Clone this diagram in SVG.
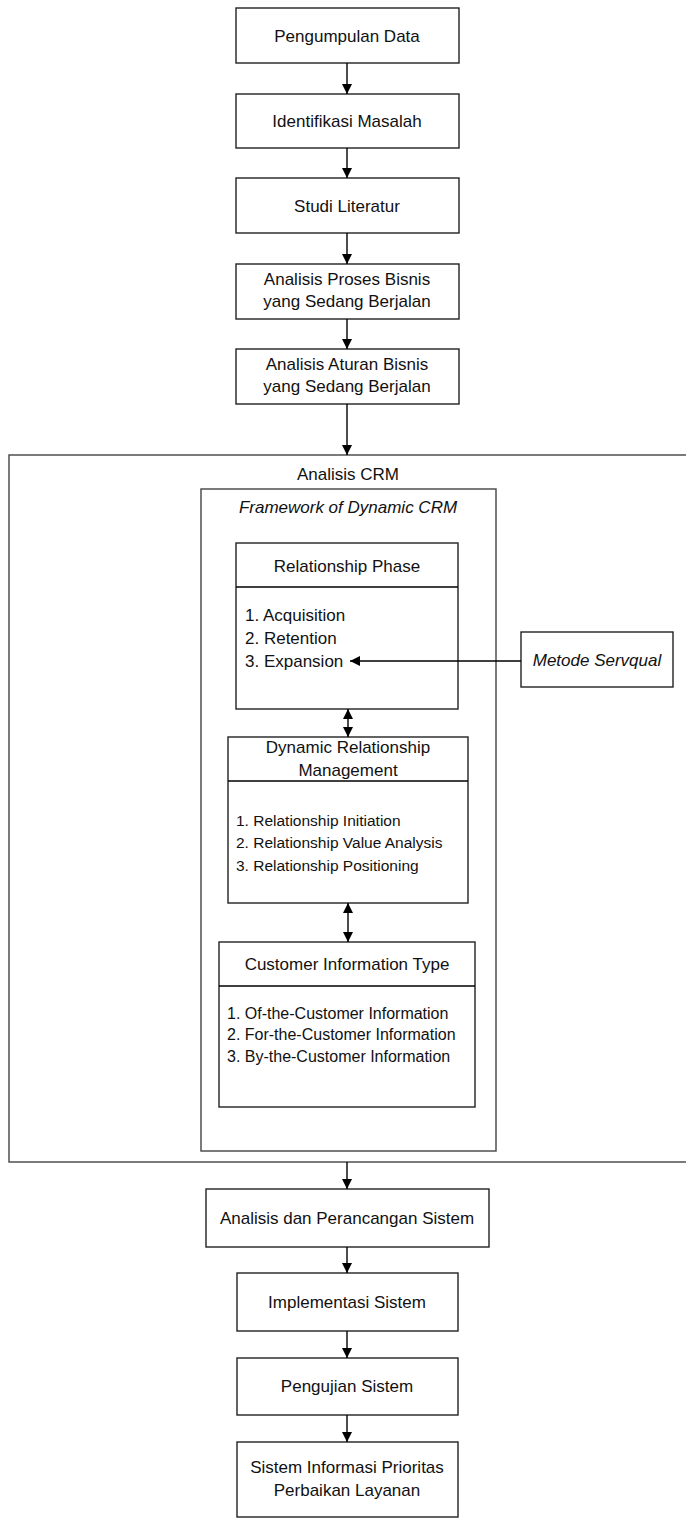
<svg xmlns="http://www.w3.org/2000/svg" width="686" height="1522" viewBox="0 0 686 1522">
<defs>
<marker id="ah" viewBox="0 0 10 10" refX="10" refY="5" markerWidth="10" markerHeight="10" markerUnits="userSpaceOnUse" orient="auto-start-reverse">
<path d="M0,0 L10,5 L0,10 z" fill="#000"/>
</marker>
<style>
.box{fill:#fff;stroke:#222;stroke-width:1.4}
.grp{fill:#fff;stroke:#444;stroke-width:1.4}
.t{font-family:"Liberation Sans",Arial,sans-serif;font-size:17px;fill:#111;text-anchor:middle}
.i{font-style:italic}
.li{font-family:"Liberation Sans",Arial,sans-serif;fill:#111;text-anchor:start}
.c{fill:none;stroke:#000;stroke-width:1.4}
</style>
</defs>
<rect width="686" height="1522" fill="#fff"/>

<g id="n-analisis-crm">
<rect class="grp" x="9" y="455" width="690" height="707"/>
<text class="t" x="348" y="480">Analisis CRM</text>
</g>
<g id="n-framework">
<rect class="grp" x="201" y="489" width="295" height="662"/>
<text class="t i" x="348" y="513">Framework of Dynamic CRM</text>
</g>

<g id="n-pengumpulan">
<rect class="box" x="236" y="8" width="223" height="55"/>
<text class="t" x="347" y="42">Pengumpulan Data</text>
</g>
<g id="n-identifikasi">
<rect class="box" x="236" y="94" width="223" height="54"/>
<text class="t" x="347" y="127">Identifikasi Masalah</text>
</g>
<g id="n-studi">
<rect class="box" x="236" y="178" width="223" height="55"/>
<text class="t" x="347" y="212">Studi Literatur</text>
</g>
<g id="n-proses">
<rect class="box" x="236" y="264" width="223" height="55"/>
<text class="t" x="347" y="285">Analisis Proses Bisnis</text>
<text class="t" x="347" y="307">yang Sedang Berjalan</text>
</g>
<g id="n-aturan">
<rect class="box" x="236" y="349" width="223" height="55"/>
<text class="t" x="347" y="370">Analisis Aturan Bisnis</text>
<text class="t" x="347" y="392">yang Sedang Berjalan</text>
</g>

<g id="n-relationship-phase">
<rect class="box" x="236" y="543" width="222" height="166"/>
<line class="c" x1="236" y1="587" x2="458" y2="587"/>
<text class="t" x="347" y="572">Relationship Phase</text>
<text class="li" x="245" y="621" font-size="17">1. Acquisition</text>
<text class="li" x="245" y="644" font-size="17">2. Retention</text>
<text class="li" x="245" y="667" font-size="17">3. Expansion</text>
</g>
<g id="n-servqual">
<rect class="box" x="521" y="632" width="152" height="55"/>
<text class="t i" x="597" y="666">Metode Servqual</text>
</g>
<g id="n-drm">
<rect class="box" x="228" y="737" width="240" height="166"/>
<line class="c" x1="228" y1="781" x2="468" y2="781"/>
<text class="t" x="348" y="753">Dynamic Relationship</text>
<text class="t" x="348" y="776">Management</text>
<text class="li" x="236" y="826" font-size="15.5">1. Relationship Initiation</text>
<text class="li" x="236" y="848" font-size="15.5">2. Relationship Value Analysis</text>
<text class="li" x="236" y="871" font-size="15.5">3. Relationship Positioning</text>
</g>
<g id="n-cit">
<rect class="box" x="219" y="942" width="256" height="165"/>
<line class="c" x1="219" y1="986" x2="475" y2="986"/>
<text class="t" x="347" y="970">Customer Information Type</text>
<text class="li" x="227" y="1019" font-size="16">1. Of-the-Customer Information</text>
<text class="li" x="227" y="1040" font-size="16">2. For-the-Customer Information</text>
<text class="li" x="227" y="1062" font-size="16">3. By-the-Customer Information</text>
</g>

<g id="n-perancangan">
<rect class="box" x="206" y="1189" width="283" height="58"/>
<text class="t" x="347" y="1224">Analisis dan Perancangan Sistem</text>
</g>
<g id="n-implementasi">
<rect class="box" x="237" y="1273" width="221" height="58"/>
<text class="t" x="347" y="1308">Implementasi Sistem</text>
</g>
<g id="n-pengujian">
<rect class="box" x="237" y="1358" width="221" height="57"/>
<text class="t" x="347" y="1392">Pengujian Sistem</text>
</g>
<g id="n-sistem-informasi">
<rect class="box" x="237" y="1442" width="221" height="75"/>
<text class="t" x="347" y="1473">Sistem Informasi Prioritas</text>
<text class="t" x="347" y="1496">Perbaikan Layanan</text>
</g>

<g id="connectors">
<line class="c" x1="347" y1="63" x2="347" y2="94" marker-end="url(#ah)"/>
<line class="c" x1="347" y1="148" x2="347" y2="178" marker-end="url(#ah)"/>
<line class="c" x1="347" y1="233" x2="347" y2="264" marker-end="url(#ah)"/>
<line class="c" x1="347" y1="319" x2="347" y2="349" marker-end="url(#ah)"/>
<line class="c" x1="347" y1="404" x2="347" y2="455" marker-end="url(#ah)"/>
<line class="c" x1="348" y1="709" x2="348" y2="737" marker-start="url(#ah)" marker-end="url(#ah)"/>
<line class="c" x1="348" y1="903" x2="348" y2="942" marker-start="url(#ah)" marker-end="url(#ah)"/>
<line class="c" x1="521" y1="661" x2="350" y2="661" marker-end="url(#ah)"/>
<line class="c" x1="347" y1="1162" x2="347" y2="1189" marker-end="url(#ah)"/>
<line class="c" x1="347" y1="1247" x2="347" y2="1273" marker-end="url(#ah)"/>
<line class="c" x1="347" y1="1331" x2="347" y2="1358" marker-end="url(#ah)"/>
<line class="c" x1="347" y1="1415" x2="347" y2="1442" marker-end="url(#ah)"/>
</g>
</svg>
